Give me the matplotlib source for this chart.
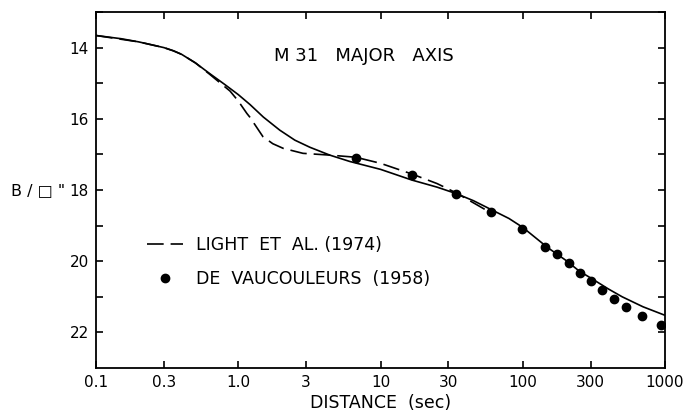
import matplotlib
matplotlib.use("Agg")
import matplotlib.pyplot as plt

plt.rcParams['font.family'] = ['DejaVu Sans']
plt.rcParams['lines.scale_dashes'] = False

# Model fit (solid curve)
fit_x = [0.1, 0.15, 0.2, 0.3, 0.35, 0.4, 0.5, 0.63, 0.8, 1.0, 1.21, 1.5, 1.96, 2.5,
         3.19, 4.4, 6.1, 10, 16.6, 25, 34, 45, 60, 80, 100, 150, 200, 250, 300, 400,
         500, 700, 1000]
fit_y = [13.66, 13.75, 13.84, 14.0, 14.09, 14.19, 14.43, 14.73, 15.03, 15.32, 15.6,
         15.95, 16.32, 16.6, 16.8, 17.02, 17.2, 17.42, 17.72, 17.92, 18.1, 18.3,
         18.55, 18.8, 19.05, 19.62, 19.97, 20.28, 20.47, 20.78, 21.0, 21.28, 21.52]

# Light et al. (1974) dashed
light_x = [0.1, 0.2, 0.3, 0.35, 0.4, 0.5, 0.63, 0.75, 0.875, 1.0, 1.15, 1.21, 1.49,
           1.75, 2.07, 2.85, 4.4, 6.7, 10, 16.6, 25, 34, 55]
light_y = [13.66, 13.84, 14.0, 14.09, 14.19, 14.43, 14.75, 15.0, 15.22, 15.5, 15.85,
           15.96, 16.5, 16.7, 16.83, 16.97, 17.02, 17.08, 17.25, 17.55, 17.82, 18.08,
           18.56]

# de Vaucouleurs (1958) points
dv_x = [6.7, 16.6, 34, 60, 98, 144, 174, 211, 251, 302, 360, 437, 530, 690, 935]
dv_y = [17.1, 17.58, 18.11, 18.62, 19.09, 19.59, 19.79, 20.04, 20.32, 20.55,
        20.82, 21.05, 21.29, 21.55, 21.8]

xticks = [0.1, 0.3, 1.0, 3, 10, 30, 100, 300, 1000]
xticklabels = ["0.1", "0.3", "1.0", "3", "10", "30", "100", "300", "1000"]
yticks = [14, 16, 18, 20, 22]
yminor = [13, 15, 17, 19, 21]

fig = plt.figure(figsize=(6.86, 4.16), dpi=100)
ax = fig.add_axes([96/686, 1-368/416, (665-96)/686, (368-12)/416])

ax.plot(fit_x, fit_y, color='black', lw=1.2, solid_capstyle='butt')
ln, = ax.plot(light_x, light_y, color='black', lw=1.2, dashes=(12, 5),
              label='LIGHT  ET  AL. (1974)')
pts, = ax.plot(dv_x, dv_y, 'o', color='black', ms=6, ls='none',
               label='DE  VAUCOULEURS  (1958)')

ax.set_xscale('log')
ax.set_xlim(0.1, 1000)
ax.set_ylim(23, 13)
ax.set_xticks(xticks)
ax.set_xticklabels(xticklabels)
ax.xaxis.set_minor_locator(matplotlib.ticker.NullLocator())
ax.set_yticks(yticks)
ax.set_yticks(yminor, minor=True)

for sp in ax.spines.values():
    sp.set_linewidth(1.3)
ax.tick_params(which='both', direction='in', top=True, right=True,
               labelsize=11, width=1.2, length=5, pad=5)

ax.text(0.47, 0.877, 'M 31   MAJOR   AXIS', transform=ax.transAxes,
        ha='center', va='center', fontsize=13)

leg = ax.legend(handles=[ln, pts], loc='upper left',
                bbox_to_anchor=(0.062, 0.414), frameon=False, fontsize=12.5,
                handlelength=2.1, labelspacing=0.9, handletextpad=0.7)

ax.set_xlabel('DISTANCE  (sec)', fontsize=12.5, labelpad=3)
fig.text(11/686, 1-191/416, 'B / \u25a1 "', ha='left', va='center', fontsize=11.5)

fig.savefig('out.png', dpi=100)
